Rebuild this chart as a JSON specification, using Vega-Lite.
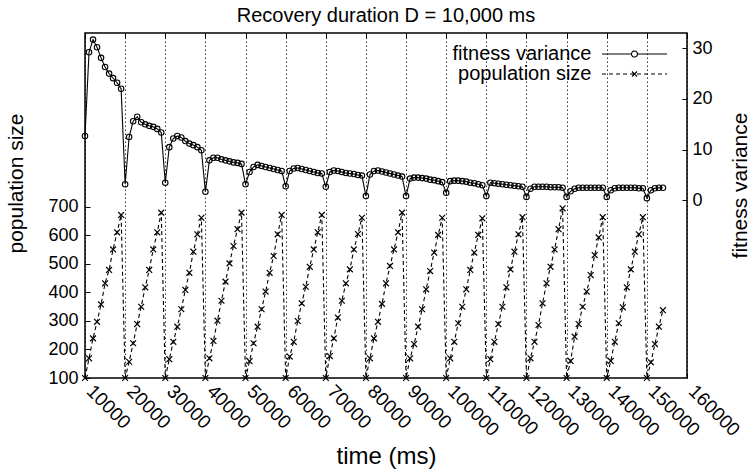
{
  "$schema": "https://vega.github.io/schema/vega-lite/v6.json",
  "width": 602,
  "height": 345,
  "autosize": "none",
  "padding": {"left": 85, "top": 33, "right": 67, "bottom": 97},
  "config": {
    "font": "Liberation Sans",
    "view": {"stroke": "black", "strokeWidth": 1.5},
    "axis": {"domain": false, "labelColor": "black", "titleColor": "black", "tickColor": "black", "titleFontWeight": "normal"}
  },
  "title": {"text": "Recovery duration D = 10,000 ms", "fontSize": 20, "fontWeight": "normal", "color": "black", "offset": 7},
  "data": {"values": [
    {"t":10000,"p":100,"v":12.7},{"t":11000,"p":169,"v":29.2},{"t":12000,"p":239,"v":31.7},{"t":13000,"p":297,"v":30.2},{"t":14000,"p":358,"v":28.1},{"t":15000,"p":432,"v":26.3},{"t":16000,"p":479,"v":25.0},{"t":17000,"p":551,"v":24.1},{"t":18000,"p":611,"v":23.2},{"t":19000,"p":672,"v":22.0},
    {"t":20000,"p":100,"v":3.2},{"t":21000,"p":157,"v":12.5},{"t":22000,"p":222,"v":15.6},{"t":23000,"p":289,"v":16.5},{"t":24000,"p":350,"v":15.4},{"t":25000,"p":418,"v":15.0},{"t":26000,"p":479,"v":14.7},{"t":27000,"p":551,"v":14.5},{"t":28000,"p":611,"v":14.1},{"t":29000,"p":680,"v":13.4},
    {"t":30000,"p":100,"v":3.5},{"t":31000,"p":166,"v":10.5},{"t":32000,"p":227,"v":12.2},{"t":33000,"p":280,"v":12.7},{"t":34000,"p":341,"v":12.4},{"t":35000,"p":409,"v":11.7},{"t":36000,"p":469,"v":11.2},{"t":37000,"p":543,"v":10.9},{"t":38000,"p":604,"v":10.5},{"t":39000,"p":662,"v":9.9},
    {"t":40000,"p":100,"v":1.7},{"t":41000,"p":169,"v":7.9},{"t":42000,"p":230,"v":8.4},{"t":43000,"p":301,"v":8.4},{"t":44000,"p":371,"v":8.1},{"t":45000,"p":438,"v":7.9},{"t":46000,"p":502,"v":7.7},{"t":47000,"p":563,"v":7.5},{"t":48000,"p":622,"v":7.4},{"t":49000,"p":680,"v":7.2},
    {"t":50000,"p":100,"v":3.2},{"t":51000,"p":159,"v":5.6},{"t":52000,"p":222,"v":6.6},{"t":53000,"p":280,"v":7.0},{"t":54000,"p":341,"v":6.8},{"t":55000,"p":403,"v":6.6},{"t":56000,"p":469,"v":6.4},{"t":57000,"p":528,"v":6.2},{"t":58000,"p":604,"v":6.0},{"t":59000,"p":672,"v":5.8},
    {"t":60000,"p":100,"v":2.8},{"t":61000,"p":175,"v":5.8},{"t":62000,"p":227,"v":6.3},{"t":63000,"p":300,"v":6.4},{"t":64000,"p":362,"v":6.2},{"t":65000,"p":420,"v":6.0},{"t":66000,"p":490,"v":5.8},{"t":67000,"p":551,"v":5.6},{"t":68000,"p":611,"v":5.4},{"t":69000,"p":672,"v":5.3},
    {"t":70000,"p":100,"v":2.7},{"t":71000,"p":177,"v":5.6},{"t":72000,"p":239,"v":5.9},{"t":73000,"p":312,"v":5.8},{"t":74000,"p":371,"v":5.6},{"t":75000,"p":432,"v":5.4},{"t":76000,"p":481,"v":5.3},{"t":77000,"p":551,"v":5.2},{"t":78000,"p":605,"v":5.0},{"t":79000,"p":662,"v":4.9},
    {"t":80000,"p":100,"v":0.85},{"t":81000,"p":169,"v":5.1},{"t":82000,"p":239,"v":5.8},{"t":83000,"p":297,"v":5.9},{"t":84000,"p":360,"v":5.7},{"t":85000,"p":432,"v":5.5},{"t":86000,"p":493,"v":5.3},{"t":87000,"p":551,"v":5.1},{"t":88000,"p":611,"v":4.9},{"t":89000,"p":680,"v":4.7},
    {"t":90000,"p":100,"v":0.85},{"t":91000,"p":169,"v":4.3},{"t":92000,"p":219,"v":4.5},{"t":93000,"p":280,"v":4.5},{"t":94000,"p":341,"v":4.4},{"t":95000,"p":411,"v":4.3},{"t":96000,"p":475,"v":4.1},{"t":97000,"p":540,"v":4.0},{"t":98000,"p":602,"v":3.8},{"t":99000,"p":662,"v":3.6},
    {"t":100000,"p":100,"v":1.5},{"t":101000,"p":169,"v":3.8},{"t":102000,"p":227,"v":3.9},{"t":103000,"p":292,"v":3.9},{"t":104000,"p":350,"v":3.8},{"t":105000,"p":411,"v":3.7},{"t":106000,"p":479,"v":3.5},{"t":107000,"p":540,"v":3.4},{"t":108000,"p":602,"v":3.2},{"t":109000,"p":660,"v":3.0},
    {"t":110000,"p":100,"v":0.85},{"t":111000,"p":166,"v":3.5},{"t":112000,"p":227,"v":3.4},{"t":113000,"p":289,"v":3.3},{"t":114000,"p":350,"v":3.2},{"t":115000,"p":418,"v":3.1},{"t":116000,"p":481,"v":3.0},{"t":117000,"p":543,"v":2.9},{"t":118000,"p":604,"v":2.8},{"t":119000,"p":664,"v":2.7},
    {"t":120000,"p":100,"v":0.7},{"t":121000,"p":169,"v":2.3},{"t":122000,"p":227,"v":2.7},{"t":123000,"p":286,"v":2.7},{"t":124000,"p":362,"v":2.7},{"t":125000,"p":432,"v":2.7},{"t":126000,"p":490,"v":2.6},{"t":127000,"p":551,"v":2.6},{"t":128000,"p":622,"v":2.6},{"t":129000,"p":695,"v":2.5},
    {"t":130000,"p":100,"v":0.7},{"t":131000,"p":160,"v":1.8},{"t":132000,"p":245,"v":2.3},{"t":133000,"p":289,"v":2.5},{"t":134000,"p":350,"v":2.5},{"t":135000,"p":403,"v":2.5},{"t":136000,"p":461,"v":2.5},{"t":137000,"p":531,"v":2.5},{"t":138000,"p":593,"v":2.5},{"t":139000,"p":664,"v":2.5},
    {"t":140000,"p":100,"v":0.7},{"t":141000,"p":160,"v":2.0},{"t":142000,"p":227,"v":2.4},{"t":143000,"p":292,"v":2.5},{"t":144000,"p":348,"v":2.5},{"t":145000,"p":418,"v":2.5},{"t":146000,"p":481,"v":2.5},{"t":147000,"p":543,"v":2.5},{"t":148000,"p":604,"v":2.4},{"t":149000,"p":664,"v":2.4},
    {"t":150000,"p":100,"v":0.45},{"t":151000,"p":155,"v":2.0},{"t":152000,"p":219,"v":2.4},{"t":153000,"p":280,"v":2.5},{"t":154000,"p":338,"v":2.5}
  ]},
  "layer": [
    {
      "encoding": {
        "x": {"field": "t", "type": "quantitative", "scale": {"domain": [10000, 160000], "nice": false, "zero": false},
          "axis": {"orient": "bottom", "title": "time (ms)", "titleFontSize": 24, "titleY": 66, "titleX": 301, "titleBaseline": "top",
            "values": [10000,20000,30000,40000,50000,60000,70000,80000,90000,100000,110000,120000,130000,140000,150000,160000],
            "format": "d", "labelAngle": 45, "labelAlign": "left", "labelBaseline": "alphabetic", "labelFontSize": 19, "labelPadding": 19, "labelOffset": 0,
            "tickSize": -5, "grid": true, "gridColor": "black", "gridDash": [1.5, 2.5], "gridWidth": 1, "gridOpacity": 0.8, "labelFlush": false, "labelOverlap": false}},
        "y": {"field": "p", "type": "quantitative", "scale": {"domain": [100, 1310], "nice": false, "zero": false},
          "axis": {"orient": "left", "title": "population size", "titleFontSize": 21, "titleAngle": -90, "titleX": -69, "titleY": 150, "titleBaseline": "middle", "titleAlign": "center",
            "values": [100,200,300,400,500,600,700], "labelFontSize": 18, "labelPadding": 12, "tickSize": -5, "grid": false}}
      },
      "layer": [
        {"mark": {"type": "line", "color": "black", "strokeWidth": 1.1},
         "encoding": {"strokeDash": {"datum": "population size", "scale": {"domain": ["fitness variance", "population size"], "range": [[1, 0], [4, 3]]},
           "legend": {"title": null, "orient": "none", "legendX": 512, "legendY": 11, "padding": 0, "rowPadding": -1,
             "symbolSize": 100, "symbolStrokeWidth": 1.1, "symbolStrokeColor": "black", "symbolFillColor": "transparent",
             "symbolOffset": 27.5, "labelOffset": -53, "labelAlign": "right", "labelFontSize": 20, "labelColor": "black", "labelLimit": 400,
             "encode": {"symbols": {"update": {"shape": {"signal": "datum.value === 'fitness variance' ? 'M-6.5,0H-0.6M0.6,0H6.5M0.6,0A0.6,0.6,0,1,1,-0.6,0A0.6,0.6,0,1,1,0.6,0' : 'M-6.5,0H6.5M0,0L0.5,0.5M0,0L-0.5,0.5M0,0L0.5,-0.5M0,0L-0.5,-0.5'"}}}}}}}},
        {"mark": {"type": "point", "shape": "M-1,-1L1,1M-1,1L1,-1", "filled": false, "color": "black", "size": 34, "strokeWidth": 1.2, "opacity": 1}}
      ]
    },
    {
      "encoding": {
        "x": {"field": "t", "type": "quantitative",
          "axis": {"orient": "top", "title": null, "labels": false, "tickSize": -5, "grid": false, "values": [10000,20000,30000,40000,50000,60000,70000,80000,90000,100000,110000,120000,130000,140000,150000,160000]}},
        "y": {"field": "v", "type": "quantitative", "scale": {"domain": [-35, 33], "nice": false, "zero": false},
          "axis": {"orient": "right", "title": "fitness variance", "titleFontSize": 21, "titleAngle": -90, "titleX": 53, "titleY": 152, "titleBaseline": "middle", "titleAlign": "center",
            "values": [0, 10, 20, 30], "labelFontSize": 18, "labelPadding": 10, "tickSize": -5, "grid": false}}
      },
      "layer": [
        {"mark": {"type": "line", "color": "black", "strokeWidth": 1.1},
         "encoding": {"strokeDash": {"datum": "fitness variance"}}},
        {"mark": {"type": "point", "shape": "circle", "filled": false, "color": "black", "size": 30, "strokeWidth": 1.1, "opacity": 1}}
      ]
    }
  ],
  "resolve": {"scale": {"y": "independent"}, "axis": {"x": "independent"}}
}
